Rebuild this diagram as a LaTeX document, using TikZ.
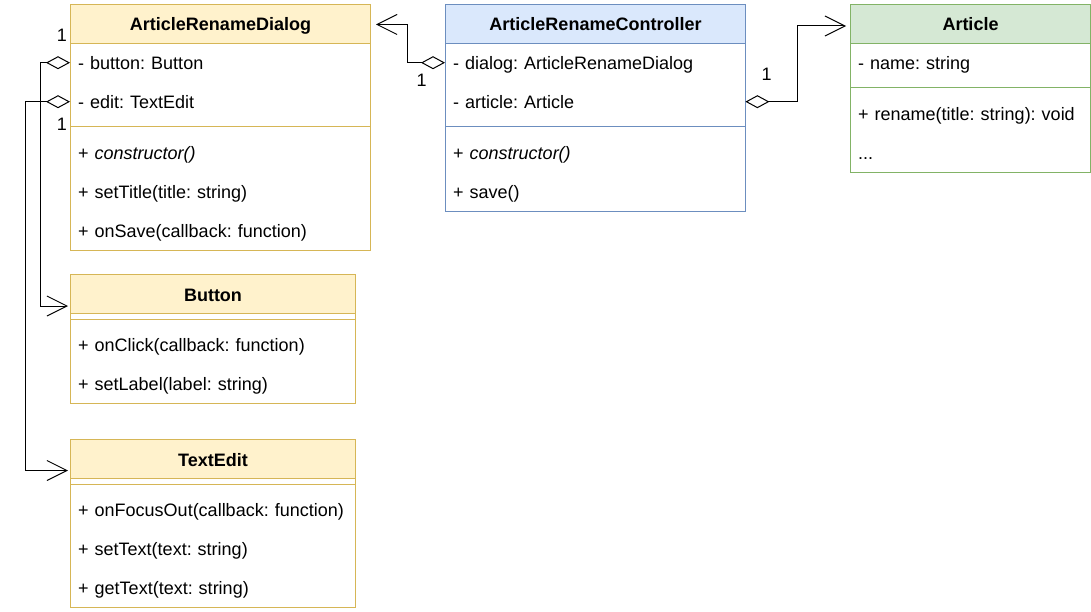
\documentclass[tikz,border=0pt]{standalone}
\usepackage{fontspec}
\setmainfont{Liberation Sans}
\usetikzlibrary{arrows.meta}
\definecolor{yfill}{HTML}{FFF2CC}
\definecolor{ystroke}{HTML}{D6B656}
\definecolor{bfill}{HTML}{DAE8FC}
\definecolor{bstroke}{HTML}{6C8EBF}
\definecolor{gfill}{HTML}{D5E8D4}
\definecolor{gstroke}{HTML}{82B366}
\frenchspacing
\begin{document}
\begin{tikzpicture}[x=1pt,y=-1pt,
  font=\fontsize{18}{21}\selectfont,
  body/.style={draw=#1, line width=1pt, fill=white, anchor=north west, inner sep=0pt},
  hdr/.style={anchor=north west, inner sep=0pt, minimum height=39pt, line width=1pt,
              text height=15pt, text depth=1pt,
              font=\fontsize{18}{21}\selectfont\bfseries},
  row/.style={anchor=north west, inner xsep=8pt, inner ysep=0pt, minimum height=39pt,
              text height=15pt, text depth=1pt, text width=#1, align=left},
  sep/.style={draw=#1, line width=1pt},
  agg/.style={draw=black, line width=1pt,
              {Diamond[open,length=24pt,width=13pt]}-{Straight Barb[length=20pt,width=20pt]}},
  lbl/.style={inner sep=0pt}
]
\useasboundingbox (0,0) rectangle (1091,612);

% ArticleRenameDialog
\node[body=ystroke, minimum width=300pt, minimum height=246pt] (dlgbox) at (70,4) {};
\node[hdr, draw=ystroke, fill=yfill, minimum width=300pt] (dlg) at (70,4) {ArticleRenameDialog};
\node[row=284pt] (dlgf1) at (70,43) {- button: Button};
\node[row=284pt] (dlgf2) at (70,82) {- edit: TextEdit};
\draw[sep=ystroke] (70,127) -- (370,127);
\node[row=284pt] (dlgm1) at (70,133) {+ \textit{constructor()}};
\node[row=284pt] (dlgm2) at (70,172) {+ setTitle(title: string)};
\node[row=284pt] (dlgm3) at (70,211) {+ onSave(callback: function)};

% ArticleRenameController
\node[body=bstroke, minimum width=300pt, minimum height=207pt] (ctlbox) at (445,4) {};
\node[hdr, draw=bstroke, fill=bfill, minimum width=300pt] (ctl) at (445,4) {ArticleRenameController};
\node[row=284pt] (ctlf1) at (445,43) {- dialog: ArticleRenameDialog};
\node[row=284pt] (ctlf2) at (445,82) {- article: Article};
\draw[sep=bstroke] (445,127) -- (745,127);
\node[row=284pt] (ctlm1) at (445,133) {+ \textit{constructor()}};
\node[row=284pt] (ctlm2) at (445,172) {+ save()};

% Article
\node[body=gstroke, minimum width=240pt, minimum height=168pt] (artbox) at (850,4) {};
\node[hdr, draw=gstroke, fill=gfill, minimum width=240pt] (art) at (850,4) {Article};
\node[row=224pt] (artf1) at (850,43) {- name: string};
\draw[sep=gstroke] (850,88) -- (1090,88);
\node[row=224pt] (artm1) at (850,94) {+ rename(title: string): void};
\node[row=224pt] (artm2) at (850,133) {...};

% Button
\node[body=ystroke, minimum width=285pt, minimum height=129pt] (btnbox) at (70,274) {};
\node[hdr, draw=ystroke, fill=yfill, minimum width=285pt] (btn) at (70,274) {Button};
\draw[sep=ystroke] (70,319) -- (355,319);
\node[row=269pt] (btnm1) at (70,325) {+ onClick(callback: function)};
\node[row=269pt] (btnm2) at (70,364) {+ setLabel(label: string)};

% TextEdit
\node[body=ystroke, minimum width=285pt, minimum height=168pt] (txtbox) at (70,439) {};
\node[hdr, draw=ystroke, fill=yfill, minimum width=285pt] (txt) at (70,439) {TextEdit};
\draw[sep=ystroke] (70,484) -- (355,484);
\node[row=269pt] (txtm1) at (70,490) {+ onFocusOut(callback: function)};
\node[row=269pt] (txtm2) at (70,529) {+ setText(text: string)};
\node[row=269pt] (txtm3) at (70,568) {+ getText(text: string)};

% connectors
\draw[agg] (ctlf1.west) -- ++(-38,0) |- ([xshift=5pt,yshift=-0.5pt]dlg.east);
\draw[agg] (ctlf2.east) -- ++(52,0) |- ([xshift=-4pt,yshift=-2pt]art.west);
\draw[agg] (dlgf1.west) -- ++(-30,0) |- ([xshift=-2pt,yshift=-12pt]btn.west);
\draw[agg] (dlgf2.west) -- ++(-45,0) |- ([xshift=-2pt,yshift=-11.5pt]txt.west);

% multiplicities
\node[lbl] (m1) at (62,35) {1};
\node[lbl] (m2) at (62,124) {1};
\node[lbl] (m3) at (421.5,80) {1};
\node[lbl] (m4) at (766.5,74.5) {1};
\end{tikzpicture}
\end{document}
